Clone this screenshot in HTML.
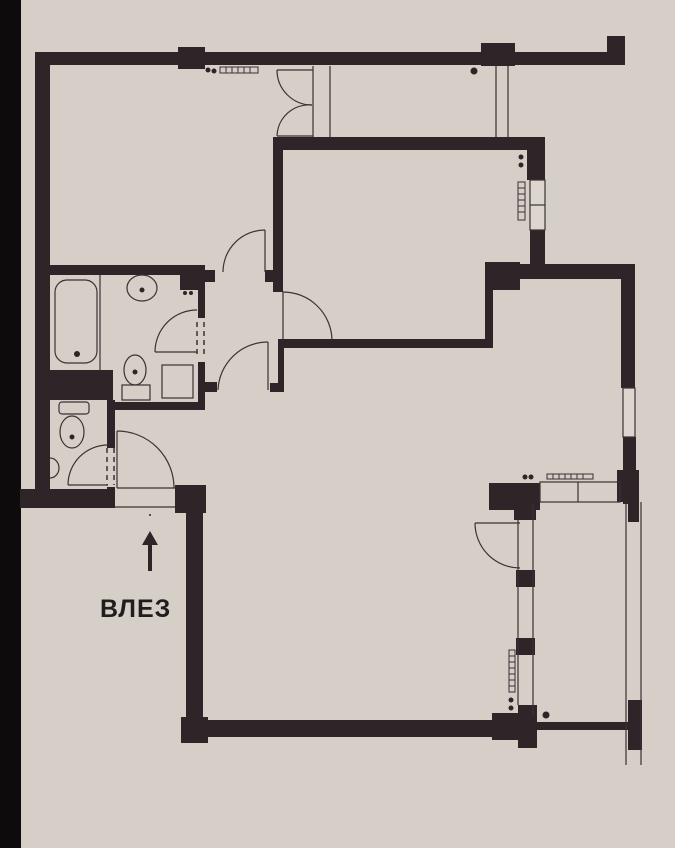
<!DOCTYPE html>
<html><head><meta charset="utf-8"><style>
html,body{margin:0;padding:0;background:#d4cdc5;}
svg{display:block}
</style></head><body>
<svg width="675" height="848" viewBox="0 0 675 848" xmlns="http://www.w3.org/2000/svg">
<rect width="675" height="848" fill="#d6cfc7"/>
<rect x="0" y="0" width="21" height="848" fill="#0e0b0c"/>
<g fill="#2d2527">
<rect x="35" y="52" width="590" height="13"/>
<rect x="178" y="47" width="27" height="22"/>
<rect x="481" y="43" width="34" height="23"/>
<rect x="607" y="36" width="18" height="28"/>
<rect x="35" y="52" width="15" height="456"/>
<rect x="20" y="489" width="95" height="19"/>
<rect x="49" y="265" width="156" height="10"/>
<rect x="180" y="265" width="25" height="25"/>
<rect x="205" y="270" width="10" height="12"/>
<rect x="198" y="265" width="7" height="53"/>
<rect x="198" y="362" width="7" height="48"/>
<rect x="205" y="382" width="12" height="10"/>
<rect x="113" y="402" width="92" height="8"/>
<rect x="48" y="370" width="65" height="30"/>
<rect x="107" y="400" width="8" height="48"/>
<rect x="107" y="487" width="8" height="21"/>
<rect x="273" y="137" width="272" height="13"/>
<rect x="273" y="137" width="10" height="155"/>
<rect x="265" y="270" width="18" height="12"/>
<rect x="527" y="137" width="18" height="43"/>
<rect x="530" y="230" width="15" height="45"/>
<rect x="485" y="264" width="150" height="15"/>
<rect x="485" y="262" width="35" height="28"/>
<rect x="485" y="262" width="8" height="86"/>
<rect x="278" y="339" width="215" height="9"/>
<rect x="278" y="339" width="6" height="51"/>
<rect x="270" y="383" width="14" height="9"/>
<rect x="621" y="268" width="14" height="120"/>
<rect x="623" y="437" width="13" height="67"/>
<rect x="617" y="470" width="22" height="32"/>
<rect x="628" y="470" width="11" height="52"/>
<rect x="489" y="483" width="51" height="27"/>
<rect x="514" y="483" width="22" height="37"/>
<rect x="516" y="570" width="19" height="17"/>
<rect x="516" y="638" width="19" height="17"/>
<rect x="492" y="713" width="44" height="27"/>
<rect x="518" y="705" width="19" height="43"/>
<rect x="536" y="722" width="92" height="8"/>
<rect x="628" y="700" width="14" height="50"/>
<rect x="175" y="485" width="31" height="28"/>
<rect x="186" y="485" width="17" height="240"/>
<rect x="181" y="717" width="27" height="26"/>
<rect x="186" y="720" width="310" height="17"/>
</g>
<g fill="none" stroke="#3a3234" stroke-width="1.2">
<line x1="313" y1="66" x2="313" y2="137"/><line x1="330" y1="66" x2="330" y2="137"/>
<line x1="277" y1="70" x2="313" y2="70"/><line x1="277" y1="136" x2="313" y2="136"/>
<path d="M277 70 A35 35 0 0 0 312 105"/><path d="M312 105 A32 32 0 0 0 277 136"/>
<line x1="496" y1="66" x2="496" y2="137"/><line x1="508" y1="66" x2="508" y2="137"/>
<rect x="530" y="180" width="15" height="50" fill="#dcd6ce"/><line x1="530" y1="205" x2="545" y2="205"/>
<rect x="623" y="388" width="12" height="49" fill="#dcd6ce"/>
<line x1="265" y1="230" x2="265" y2="272"/><path d="M265 230 A42 42 0 0 0 223 272"/>
<line x1="283" y1="292" x2="283" y2="340"/><path d="M283 292 A49 49 0 0 1 332 340"/>
<line x1="268" y1="342" x2="268" y2="390"/><path d="M268 342 A50 50 0 0 0 218 390"/>
<line x1="117" y1="431" x2="117" y2="488"/><path d="M117 431 A57 57 0 0 1 174 488"/>
<line x1="117" y1="488" x2="175" y2="488"/><line x1="115" y1="507" x2="175" y2="507"/>
<line x1="155" y1="352" x2="197" y2="352"/><path d="M155 352 A42 42 0 0 1 197 310"/>
<line x1="68" y1="485" x2="108" y2="485"/><path d="M68 485 A40 40 0 0 1 108 445"/>
<line x1="475" y1="523" x2="520" y2="523"/><path d="M475 523 A45 45 0 0 0 520 568"/>
<line x1="518" y1="520" x2="518" y2="705"/><line x1="533" y1="503" x2="533" y2="715"/>
<line x1="626" y1="502" x2="626" y2="765"/><line x1="641" y1="502" x2="641" y2="765"/>
<rect x="540" y="482" width="80" height="20"/><line x1="578" y1="482" x2="578" y2="502"/>
<rect x="55" y="280" width="42" height="83" rx="12"/><line x1="100" y1="275" x2="100" y2="370"/>
<ellipse cx="142" cy="288" rx="15" ry="13"/>
<ellipse cx="135" cy="370" rx="11" ry="15"/><rect x="122" y="385" width="28" height="15"/>
<rect x="162" y="365" width="31" height="33"/>
<ellipse cx="72" cy="432" rx="12" ry="16"/><rect x="59" y="402" width="30" height="12" rx="3"/>
<path d="M50 458 A9 10 0 0 1 50 478"/>
</g>
<g fill="none" stroke="#3a3234" stroke-width="1">
<rect x="220" y="67" width="38" height="6"/>
<path d="M226 67v6M232 67v6M238 67v6M244 67v6M250 67v6"/>
<rect x="518" y="182" width="7" height="38"/>
<path d="M518 188h7M518 194h7M518 200h7M518 206h7M518 212h7"/>
<rect x="547" y="474" width="46" height="5"/>
<path d="M553 474v5M559 474v5M565 474v5M571 474v5M577 474v5M583 474v5"/>
<rect x="509" y="650" width="6" height="42"/>
<path d="M509 656h6M509 662h6M509 668h6M509 674h6M509 680h6M509 686h6"/>
</g>
<g stroke="#3a3234" stroke-width="1.5" stroke-dasharray="5,4">
<line x1="197" y1="322" x2="197" y2="358"/><line x1="204" y1="322" x2="204" y2="358"/>
<line x1="107" y1="448" x2="107" y2="485"/><line x1="114" y1="448" x2="114" y2="485"/>
</g>
<g fill="#2d2527">
<circle cx="77" cy="354" r="3"/><circle cx="142" cy="290" r="2.5"/><circle cx="135" cy="372" r="2.5"/><circle cx="72" cy="437" r="2.5"/>
<circle cx="208" cy="70" r="2.5"/><circle cx="214" cy="71" r="2.5"/>
<circle cx="185" cy="293" r="2"/><circle cx="191" cy="293" r="2"/>
<circle cx="474" cy="71" r="3.5"/>
<circle cx="521" cy="157" r="2.5"/><circle cx="521" cy="165" r="2.5"/>
<circle cx="525" cy="477" r="2.5"/><circle cx="531" cy="477" r="2.5"/>
<circle cx="511" cy="700" r="2.5"/><circle cx="511" cy="708" r="2.5"/>
<circle cx="546" cy="715" r="3.5"/><circle cx="150" cy="515" r="1"/>
<rect x="148" y="543" width="4" height="28"/>
<polygon points="142,545 150,531 158,545"/>
</g>
<text x="100" y="617" font-family="'Liberation Sans', sans-serif" font-weight="bold" font-size="25" fill="#231c1e" letter-spacing="1">ВЛЕЗ</text>
</svg>
</body></html>
